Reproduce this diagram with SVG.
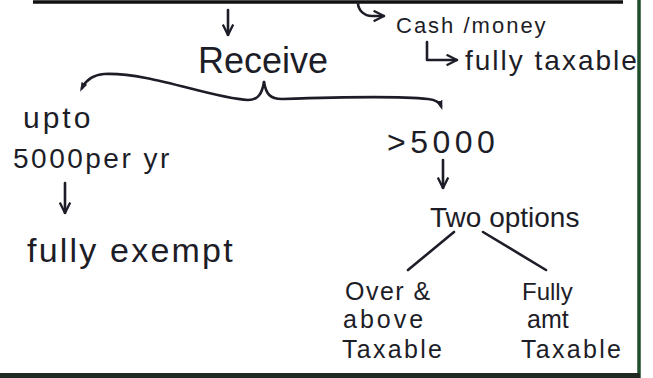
<svg xmlns="http://www.w3.org/2000/svg" width="653" height="378" viewBox="0 0 653 378">
  <style>
    .t { font-family: "Liberation Sans", Arial, sans-serif; fill: #1d1d28; }
    .ln { fill: none; stroke: #1d1d28; stroke-width: 2.6; stroke-linecap: round; stroke-linejoin: round; }
  </style>
  <defs>
    <marker id="arr" viewBox="0 0 10 10" refX="9" refY="5" markerWidth="5" markerHeight="5" orient="auto-start-reverse">
      <path d="M1,1 L9,5 L1,9" fill="none" stroke="#1d1d28" stroke-width="1.8"/>
    </marker>
    <marker id="dot" viewBox="0 0 10 10" refX="5" refY="5" markerWidth="4" markerHeight="4" orient="auto">
      <path d="M0,2 L9,5 L0,8 Z" fill="#1d1d28"/>
    </marker>
  </defs>

  <rect width="653" height="378" fill="#ffffff"/>

  <!-- page edges: rule at top, green margin, dark strip at bottom -->
  <line x1="33" y1="2" x2="623" y2="2" stroke="#111" stroke-width="3.5"/>
  <line x1="639" y1="0" x2="639" y2="378" stroke="#1e4d2b" stroke-width="3.5"/>
  <rect x="0" y="373" width="640" height="5" fill="#1f2a22"/>

  <g id="connectors">
    <!-- top down arrow to Receive -->
    <path class="ln" d="M228,10 L228,35" marker-end="url(#arr)"/>
    <!-- hook to Cash/money -->
    <path class="ln" d="M358,3 C358,10 364,16 372,16 L384,16" marker-end="url(#arr)"/>
    <!-- Cash/money to fully taxable -->
    <path class="ln" d="M427,42 L427,60 L457,60" marker-end="url(#arr)"/>
    <!-- brace under Receive -->
    <path class="ln" d="M264,82 C262,94 258,100 248,100 C210,98 150,72 104,74 C92,75 86,80 82,88" marker-end="url(#dot)"/>
    <path class="ln" d="M264,82 C266,94 270,99 282,99 C340,97 400,96 428,99 C436,100 440,103 441,106" marker-end="url(#dot)"/>
    <!-- upto 5000 to fully exempt -->
    <path class="ln" d="M65,183 L65,213" marker-end="url(#arr)"/>
    <!-- >5000 to Two options -->
    <path class="ln" d="M443,160 L443,188" marker-end="url(#arr)"/>
    <!-- split of Two options -->
    <path class="ln" d="M454,232 L408,270"/>
    <path class="ln" d="M483,232 L546,270"/>
  </g>

  <g id="cash">
    <text class="t" x="396" y="33" font-size="22" letter-spacing="2">Cash /money</text>
  </g>
  <g id="fully-taxable">
    <text class="t" x="465" y="70" font-size="28" letter-spacing="2">fully taxable</text>
  </g>
  <g id="receive">
    <text class="t" x="198" y="73" font-size="36">Receive</text>
  </g>
  <g id="upto">
    <text class="t" x="23" y="128" font-size="30" letter-spacing="3">upto</text>
    <text class="t" x="13" y="168" font-size="28" letter-spacing="2.5">5000per yr</text>
  </g>
  <g id="fully-exempt">
    <text class="t" x="27" y="262" font-size="34" letter-spacing="2.2">fully exempt</text>
  </g>
  <g id="over-5000">
    <text class="t" x="387" y="153" font-size="32" letter-spacing="4.5">&gt;5000</text>
  </g>
  <g id="two-options">
    <text class="t" x="430" y="227" font-size="28">Two options</text>
  </g>
  <g id="over-above">
    <text class="t" x="345" y="300" font-size="25" letter-spacing="1.5">Over &amp;</text>
    <text class="t" x="343" y="328" font-size="25" letter-spacing="3">above</text>
    <text class="t" x="342" y="358" font-size="25" letter-spacing="2.3">Taxable</text>
  </g>
  <g id="fully-amt">
    <text class="t" x="522" y="300" font-size="24">Fully</text>
    <text class="t" x="527" y="328" font-size="25">amt</text>
    <text class="t" x="521" y="358" font-size="25" letter-spacing="2.3">Taxable</text>
  </g>
</svg>
